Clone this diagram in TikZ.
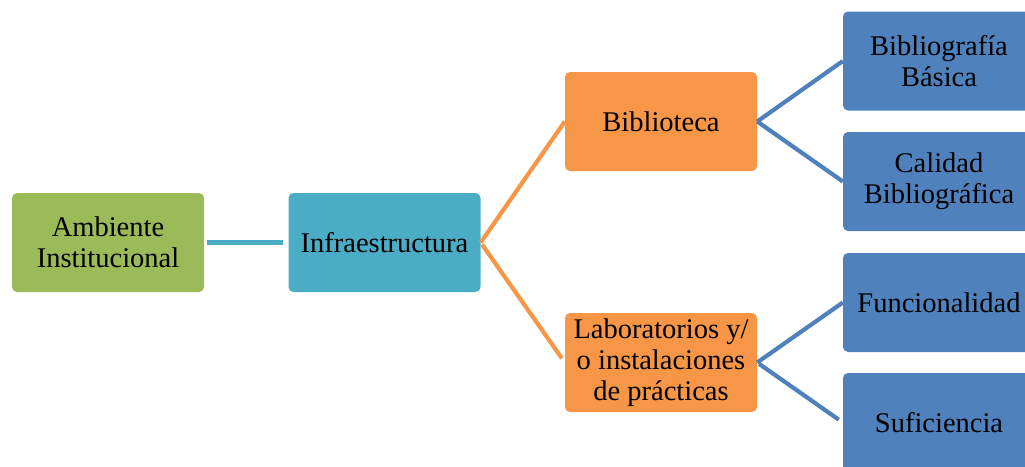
\documentclass[tikz,border=0pt]{standalone}
\usepackage{fontspec}
\setmainfont{Liberation Serif}
\definecolor{verde}{HTML}{9BBB59}
\definecolor{turquesa}{HTML}{4BACC6}
\definecolor{naranja}{HTML}{F79646}
\definecolor{azul}{HTML}{4F81BD}
\tikzset{
  caja/.style={rounded corners=5pt, minimum width=192pt, minimum height=99pt,
    align=center, inner sep=2pt, font=\fontsize{28.5}{31}\selectfont},
  enlace/.style={line width=4.2pt, shorten <=2.5pt, shorten >=5pt}
}
\begin{document}
\begin{tikzpicture}[x=1pt,y=-1pt]
  \clip (0,0) rectangle (1025,466); % marco
  % cajas
  \node[caja, fill=verde] (amb) at (108,242.5) {Ambiente\\Institucional};
  \node[caja, fill=turquesa] (infra) at (384.5,242.5) {Infraestructura};
  \node[caja, fill=naranja] (bib) at (661,121.5) {Biblioteca};
  \node[caja, fill=naranja] (lab) at (661,362.5) {Laboratorios y/\\o instalaciones\\de prácticas};
  \node[caja, fill=azul] (bbas) at (939,61) {Bibliografía\\Básica};
  \node[caja, fill=azul] (cbib) at (939,181.5) {Calidad\\Bibliográfica};
  \node[caja, fill=azul] (func) at (939,302.5) {Funcionalidad};
  \node[caja, fill=azul] (suf) at (939,422.5) {Suficiencia};
  % enlaces
  \draw[enlace, turquesa] (amb.east) -- (infra.west);
  \draw[enlace, naranja]
     (infra.east) -- (bib.west) % hacia Biblioteca
     (infra.east) -- (lab.west); % hacia Laboratorios
  \draw[enlace, azul]
     (bib.east) -- (bbas.west)
     (bib.east) -- (cbib.west)
     (lab.east) -- (func.west)
     (lab.east) -- (suf.west);
\end{tikzpicture}
\end{document}
